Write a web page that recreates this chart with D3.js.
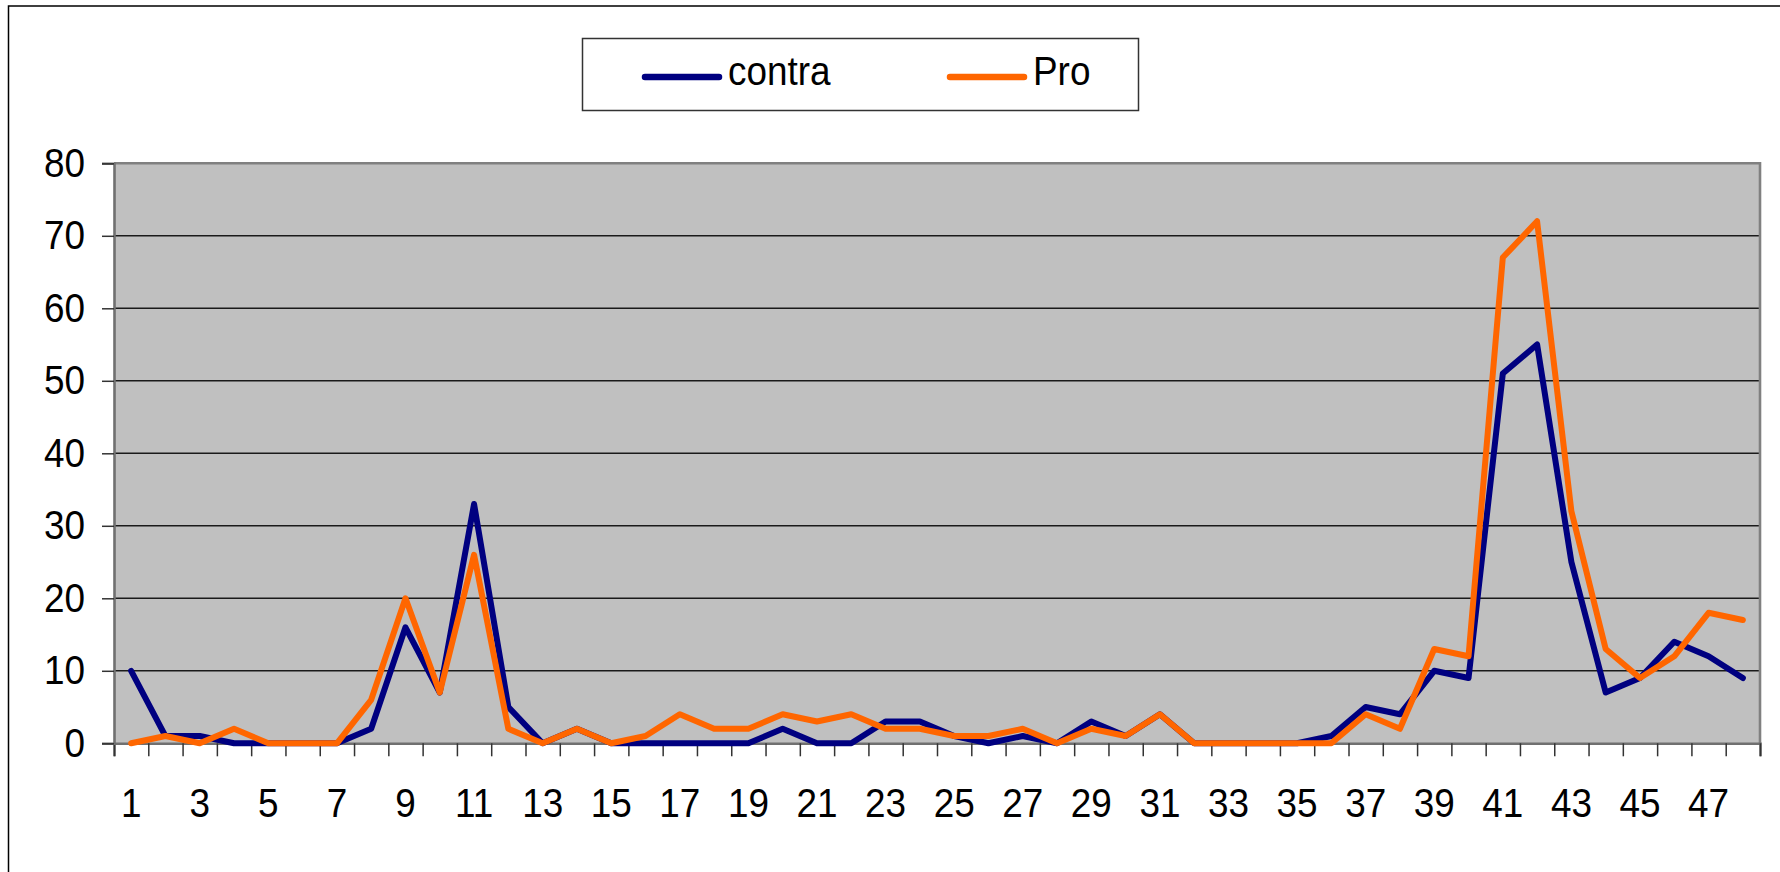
<!DOCTYPE html>
<html>
<head>
<meta charset="utf-8">
<script src="https://cdn.jsdelivr.net/npm/d3@7"></script>
<style>
  body { margin: 0; background: #fff; }
  text { font-family: "Liberation Sans", Arial, sans-serif; }
  .narrow { transform-box: fill-box; transform-origin: center; transform: scaleX(0.9); }
  .narrow-left { transform-box: fill-box; transform-origin: left; transform: scaleX(0.9); }
  .narrow-right { transform-box: fill-box; transform-origin: right; transform: scaleX(0.9); }
</style>
</head>
<body>
<svg id="chart" width="1780" height="872"></svg>
<script>
// categories 1..48
var categories = [1,2,3,4,5,6,7,8,9,10,11,12,13,14,15,16,17,18,19,20,21,22,23,24,
  25,26,27,28,29,30,31,32,33,34,35,36,37,38,39,40,41,42,43,44,45,46,47,48];

var contra = [10,1,1,0,0,0,0,2,16,7,33,5,0,2,0,0,0,0,0,2,0,0,3,3,
  1,0,1,0,3,1,4,0,0,0,0,1,5,4,10,9,51,55,25,7,9,14,12,9];

var pro = [0,1,0,2,0,0,0,6,20,7,26,2,0,2,0,1,4,2,2,4,3,4,2,2,
  1,1,2,0,2,1,4,0,0,0,0,0,4,2,13,12,67,72,32,13,9,12,18,17];

var yTicks = [0,10,20,30,40,50,60,70,80];
var xLabels = categories.filter(function(d) { return d % 2 === 1; });

var seriesNames = ["contra", "Pro"];
var seriesColors = ["#000080", "#FF6600"];

var svg = d3.select("#chart"),
  margin = { top: 163.3, right: 20, bottom: 128.7, left: 114 },
  width = 1780,
  height = 872;

var x = d3.scaleBand().domain(categories).range([margin.left, width - margin.right]).padding(0);
var xEdge = d3.scaleLinear().domain([0, categories.length]).range([margin.left, width - margin.right]);
var y = d3.scaleLinear().domain([0, 80]).range([height - margin.bottom, margin.top]);

// outer chart frame
svg.append("rect")
  .attr("x", 8.5).attr("y", 6)
  .attr("width", 2000).attr("height", 2000)
  .attr("fill", "none").attr("stroke", "#000").attr("stroke-width", 1.5);

// plot area
svg.append("rect")
  .attr("x", margin.left).attr("y", y(80))
  .attr("width", x.range()[1] - margin.left)
  .attr("height", y(0) - y(80))
  .attr("fill", "#C0C0C0");

// gridlines
svg.append("g").selectAll("line")
  .data(yTicks.filter(function(d) { return d > 0 && d < 80; }))
  .enter().append("line")
  .attr("x1", margin.left).attr("x2", x.range()[1])
  .attr("y1", function(d) { return y(d); })
  .attr("y2", function(d) { return y(d); })
  .attr("stroke", "#1a1a1a").attr("stroke-width", 1.6);

// top and right border of plot
svg.append("path")
  .attr("d", "M" + margin.left + "," + y(80) + "H" + x.range()[1] + "V" + y(0))
  .attr("fill", "none").attr("stroke", "#808080").attr("stroke-width", 2.6);

// x tick marks between categories
var xTickAxis = svg.append("g")
  .attr("transform", "translate(0," + y(0) + ")")
  .call(d3.axisBottom(xEdge).tickValues(d3.range(0, categories.length + 1))
    .tickSize(13).tickFormat(""));
xTickAxis.select(".domain").attr("stroke", "#707070").attr("stroke-width", 2.6);
xTickAxis.selectAll(".tick line").attr("stroke", "#333").attr("stroke-width", 1.5);

// x labels
var xLabelAxis = svg.append("g")
  .attr("transform", "translate(0," + y(0) + ")")
  .call(d3.axisBottom(x).tickValues(xLabels).tickSize(0).tickPadding(45));
xLabelAxis.select(".domain").remove();
xLabelAxis.selectAll("text").attr("font-size", 41).attr("fill", "#000")
  .attr("class", "narrow")
  .style("font-family", "'Liberation Sans', Arial, sans-serif");

// y axis
var yAxis = svg.append("g")
  .attr("transform", "translate(" + margin.left + ",0)")
  .call(d3.axisLeft(y).tickValues(yTicks).tickSize(12).tickPadding(17));
yAxis.select(".domain").attr("stroke", "#707070").attr("stroke-width", 2.6);
yAxis.selectAll(".tick line").attr("stroke", "#333").attr("stroke-width", 1.5);
yAxis.selectAll("text").attr("font-size", 41).attr("fill", "#000")
  .attr("class", "narrow-right")
  .style("font-family", "'Liberation Sans', Arial, sans-serif");

// series lines
var line = d3.line()
  .x(function(d, i) { return x(categories[i]) + x.bandwidth() / 2; })
  .y(function(d) { return y(d); });

[contra, pro].forEach(function(values, i) {
  svg.append("path")
    .datum(values)
    .attr("d", line)
    .attr("fill", "none")
    .attr("stroke", seriesColors[i])
    .attr("stroke-width", 6)
    .attr("stroke-linejoin", "round")
    .attr("stroke-linecap", "round");
});

// legend
var legend = svg.append("g");
legend.append("rect")
  .attr("x", 582.5).attr("y", 38.5)
  .attr("width", 556).attr("height", 72)
  .attr("fill", "#fff").attr("stroke", "#333").attr("stroke-width", 1.5);

var legendX = [645, 950];
seriesNames.forEach(function(name, i) {
  legend.append("line")
    .attr("x1", legendX[i]).attr("x2", legendX[i] + 74)
    .attr("y1", 77).attr("y2", 77)
    .attr("stroke", seriesColors[i]).attr("stroke-width", 6.5)
    .attr("stroke-linecap", "round");
  legend.append("text")
    .attr("x", legendX[i] + 83).attr("y", 85)
    .attr("font-size", 41)
    .attr("class", "narrow-left")
    .text(name);
});
</script>
</body>
</html>
